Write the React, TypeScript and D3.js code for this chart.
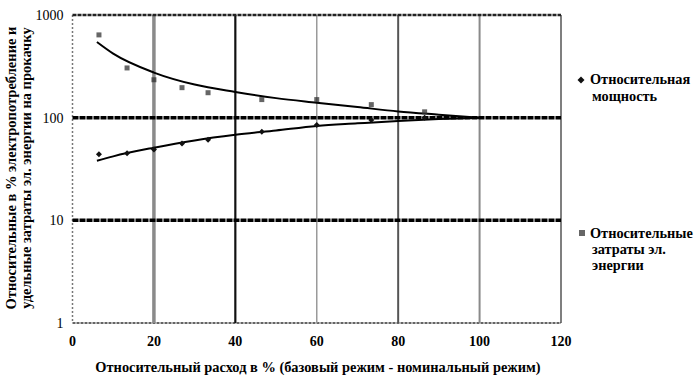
import React from "react";
import * as d3 from "d3";

// Relative flow, % (measured points)
const flow = [6.5, 13.4, 20, 26.9, 33.3, 46.5, 60, 73.4, 86.5];
// Relative power, %
const powerValues = [44, 45, 49, 56, 61, 73, 85, 95, 100];
// Relative specific energy cost, %
const energyValues = [640, 305, 234, 196, 175, 150, 150, 134, 114];

// Trend lines
const trendFlow = [6, 10, 20, 30, 40, 50, 60, 70, 80, 90, 100];
const powerTrend = [38, 42, 51, 60, 68, 75, 83, 88, 93, 97, 100];
const energyTrend = [545, 420, 275, 210, 178, 155, 140, 127, 115, 107, 100];

const xTicks = [0, 20, 40, 60, 80, 100, 120];
const yTicks = [1, 10, 100, 1000];

const W = 700;
const H = 391;
const M = { left: 72.5, right: 561, top: 15, bottom: 323 };

const vGrid = [
  { v: 20, color: "#8a8a8a", w: 3.5 },
  { v: 40, color: "#111", w: 2.2 },
  { v: 60, color: "#9a9a9a", w: 1.5 },
  { v: 80, color: "#555", w: 2 },
  { v: 100, color: "#8a8a8a", w: 2 },
];

const serif = "Times New Roman, Liberation Serif, DejaVu Serif, serif";

const App: React.FC = () => {
  const x = d3.scaleLinear().domain([0, 120]).range([M.left, M.right]);
  const y = d3.scaleLog().domain([1, 1000]).range([M.bottom, M.top]);

  const line = d3
    .line<[number, number]>()
    .x((d) => x(d[0]))
    .y((d) => y(d[1]))
    .curve(d3.curveMonotoneX);

  const powerPath = line(trendFlow.map((f, i) => [f, powerTrend[i]]) as [number, number][]) || "";
  const energyPath = line(trendFlow.map((f, i) => [f, energyTrend[i]]) as [number, number][]) || "";

  const diamond = (cx: number, cy: number, r = 3.5) =>
    `M${cx},${cy - r}L${cx + r},${cy}L${cx},${cy + r}L${cx - r},${cy}Z`;

  return (
    <svg width={W} height={H} style={{ position: "absolute", left: 0, top: 0 }}>
      <rect width={W} height={H} fill="#fff" />
      {/* frame */}
      <line x1={M.left} x2={M.left} y1={M.top} y2={M.bottom} stroke="#777" strokeWidth={1.5} strokeDasharray="2,2" />
      <line x1={M.right} x2={M.right} y1={M.top} y2={M.bottom} stroke="#555" strokeWidth={1.5} />
      <line x1={M.left} x2={M.right} y1={M.bottom} y2={M.bottom} stroke="#333" strokeWidth={1.5} strokeDasharray="3,1" />
      {/* vertical grid */}
      {vGrid.map((g) => (
        <line key={g.v} x1={x(g.v)} x2={x(g.v)} y1={M.top} y2={M.bottom} stroke={g.color} strokeWidth={g.w} />
      ))}
      {/* horizontal grid */}
      {[10, 100].map((v) => (
        <line key={v} x1={M.left} x2={M.right} y1={y(v)} y2={y(v)} stroke="#000" strokeWidth={3.5} strokeDasharray="6,1" />
      ))}
      <line x1={M.left} x2={M.right} y1={y(1000)} y2={y(1000)} stroke="#222" strokeWidth={2.5} strokeDasharray="4,1" />

      {/* trend lines */}
      <path d={energyPath} fill="none" stroke="#000" strokeWidth={2} />
      <path d={powerPath} fill="none" stroke="#000" strokeWidth={2} />

      {/* markers */}
      {flow.map((f, i) => (
        <rect key={"e" + i} x={x(f) - 2.5} y={y(energyValues[i]) - 2.5} width={5} height={5} fill="#333" opacity={0.75} />
      ))}
      {flow.map((f, i) => (
        <path key={"p" + i} d={diamond(x(f), y(powerValues[i]), 3)} fill="#111" />
      ))}

      {/* y tick labels */}
      {yTicks.map((t) => (
        <text key={t} x={M.left - 9} y={y(t) + 5} textAnchor="end" fontFamily={serif} fontSize={14}>
          {t}
        </text>
      ))}
      {/* x tick labels */}
      {xTicks.map((t) => (
        <text key={t} x={x(t)} y={346} textAnchor="middle" fontFamily={serif} fontSize={14} fontWeight="bold">
          {t}
        </text>
      ))}

      {/* axis titles */}
      <text x={318} y={372} textAnchor="middle" fontFamily={serif} fontSize={14.4} fontWeight="bold">
        Относительный расход в % (базовый режим - номинальный режим)
      </text>
      <g transform="translate(16,168) rotate(-90)" fontFamily={serif} fontSize={14.5} fontWeight="bold">
        <text x={0} y={0} textAnchor="middle">
          Относительные в % электропотребление и
        </text>
        <text x={0} y={15} textAnchor="middle">
          удельные затраты эл. энергии на прокачку
        </text>
      </g>

      {/* legend */}
      <g fontFamily={serif} fontSize={14.3} fontWeight="bold">
        <path d={diamond(581, 80, 3.5)} fill="#111" />
        <text x={590} y={84}>Относительная</text>
        <text x={592} y={101}>мощность</text>
        <rect x={579} y={230} width={6} height={6} fill="#333" opacity={0.75} />
        <text x={590} y={238}>Относительные</text>
        <text x={592} y={254}>затраты эл.</text>
        <text x={592} y={270}>энергии</text>
      </g>
    </svg>
  );
};

export default App;
